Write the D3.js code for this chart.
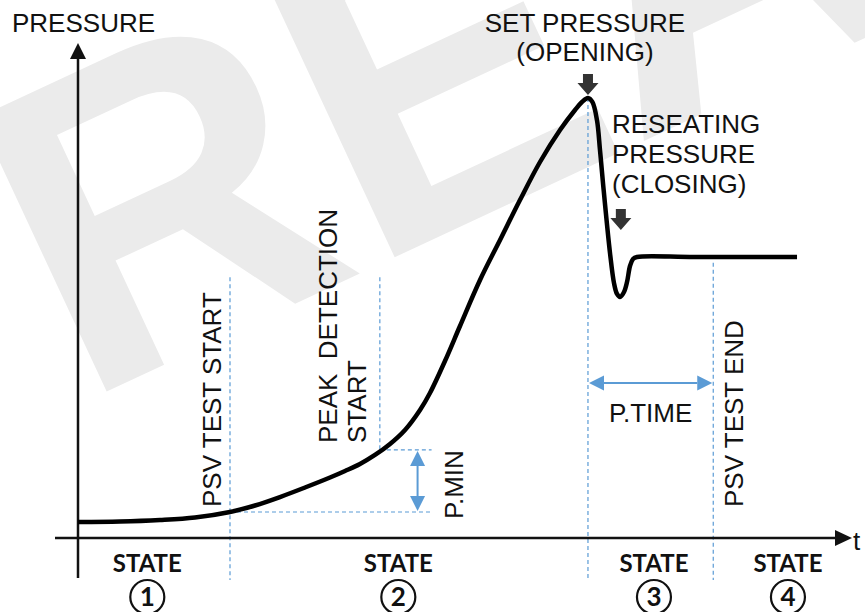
<!DOCTYPE html>
<html>
<head>
<meta charset="utf-8">
<script src="https://cdn.jsdelivr.net/npm/d3@7/dist/d3.min.js"></script>
<style>
  body { margin: 0; background: #fff; }
  svg { display: block; }
  text { font-family: "Liberation Sans", Arial, sans-serif; fill: #111; }
</style>
</head>
<body>
<svg id="chart" width="865" height="612"></svg>
<script>
/* Curve readings (time %, pressure %) */
var timeVals = [0, 5.45, 10.65, 15.19, 19.74, 22.99, 26.23, 29.48, 32.73, 34.68, 36.62, 38.57,
                40.52, 42.47, 44.42, 45.71, 47.66, 49.61, 52.21, 54.81, 57.40, 60.0, 62.60,
                64.55, 65.45, 66.23, 66.8, 67.4, 67.79, 68.18, 69.09, 69.61, 70.0, 70.39,
                70.91, 71.3, 71.69, 72.08, 72.6, 80.0, 93.38];
var pressureVals = [3.23, 3.33, 3.64, 4.14, 5.25, 6.57, 8.28, 10.2, 12.22, 13.54, 14.95, 16.77,
                    18.99, 21.82, 25.86, 29.29, 35.76, 42.83, 52.12, 60.2, 68.28, 75.96, 82.42,
                    86.46, 88.08, 88.89, 88.1, 84.4, 78.38, 71.72, 57.58, 51.5, 49.3, 48.69,
                    49.7, 51.7, 54.95, 56.36, 56.77, 56.77, 56.77];

/* Events along time */
var eventTimes = [19.74, 39.2, 66.23, 82.5];
var eventPressures = [5.25, 17.8, 88.89, 56.77];

/* States below the time axis */
var stateTimes = [9.0, 41.6, 74.8, 92.2];
var stateNums = ["1", "2", "3", "4"];

/* Reseating point */
var reseatTime = 70.5;
var reseatPressure = 62.2;

var settings = {
    blue : "#5b9bd5",
    dark : "#333",
    fontSize : 26,
    dash : "4,3"
}

var svg = d3.select("svg#chart");

var x = d3.scaleLinear().domain([0, 100]).range([78, 848]);
var y = d3.scaleLinear().domain([0, 100]).range([538, 43]);

/* Watermark */
svg.append("text")
  .text("REAL")
  .attr("transform", "translate(80,404) rotate(-25)")
  .style("font-size", "440px")
  .style("font-weight", "bold")
  .style("fill", "#ebebeb");

/* Dashed guides */
var guides = svg.append("g")
  .attr("stroke", settings.blue)
  .attr("stroke-width", 1.2)
  .attr("stroke-dasharray", settings.dash)
  .attr("fill", "none");

var guideTops = [52.7, 52.7, eventPressures[2], 55.6];
var guideBottoms = [-8.5, eventPressures[1], -8.5, -8.5];

guides.selectAll("line.v")
  .data(eventTimes)
  .enter()
  .append("line")
  .attr("class", "v")
  .attr("x1", d => x(d))
  .attr("x2", d => x(d))
  .attr("y1", (d, i) => y(guideTops[i]))
  .attr("y2", (d, i) => y(guideBottoms[i]));

var pMinX = 44.1;
guides.selectAll("line.h")
  .data([0, 1])
  .enter()
  .append("line")
  .attr("class", "h")
  .attr("x1", i => x(eventTimes[i]))
  .attr("x2", x(pMinX) + 14)
  .attr("y1", i => y(eventPressures[i]))
  .attr("y2", i => y(eventPressures[i]));

/* Blue double arrows */
function blueArrow(x1, y1, x2, y2) {
  var g = svg.append("g");
  var len = 15, half = 7.5;
  var dx = x2 - x1, dy = y2 - y1, l = Math.sqrt(dx * dx + dy * dy);
  var ux = dx / l, uy = dy / l;
  g.append("line")
    .attr("x1", x1 + ux * len).attr("y1", y1 + uy * len)
    .attr("x2", x2 - ux * len).attr("y2", y2 - uy * len)
    .attr("stroke", settings.blue).attr("stroke-width", 2);
  [[x1, y1, -1], [x2, y2, 1]].forEach(function(p) {
    var bx = p[0] - p[2] * ux * len, by = p[1] - p[2] * uy * len;
    g.append("path")
      .attr("d", `M${p[0]},${p[1]} L${bx - uy * half},${by + ux * half} L${bx + uy * half},${by - ux * half} Z`)
      .attr("fill", settings.blue);
  });
}

blueArrow(x(pMinX), y(eventPressures[1]) + 1, x(pMinX), y(eventPressures[0]) - 1);
var pTimeLevel = 31.3;
blueArrow(x(eventTimes[2]) + 1, y(pTimeLevel), x(eventTimes[3]) - 1, y(pTimeLevel));

/* Axes */
var axes = svg.append("g").attr("stroke", "#111").attr("stroke-width", 2.5);
axes.append("line").attr("x1", x(0)).attr("x2", x(0)).attr("y1", 56).attr("y2", 578);
axes.append("line").attr("x1", 55).attr("x2", 836).attr("y1", y(0)).attr("y2", y(0));
svg.append("path")
  .attr("d", `M${x(0)},${y(100)} L${x(0) - 8},${y(100) + 16} L${x(0) + 8},${y(100) + 16} Z`)
  .attr("fill", "#111");
svg.append("path")
  .attr("d", `M${x(100) + 4},${y(0)} L${x(100) - 13},${y(0) - 8} L${x(100) - 13},${y(0) + 8} Z`)
  .attr("fill", "#111");

/* Pressure curve */
var line = d3.line()
  .x(d => x(d[0]))
  .y(d => y(d[1]))
  .curve(d3.curveCatmullRom.alpha(0.5));

svg.append("path")
  .datum(d3.zip(timeVals, pressureVals))
  .attr("d", line)
  .attr("fill", "none")
  .attr("stroke", "#000")
  .attr("stroke-width", 4.5)
  .attr("stroke-linejoin", "round");

/* Black down arrows */
function downArrow(tx, ty) {
  svg.append("path")
    .attr("d", `M${tx},${ty} L${tx - 10.5},${ty - 12} L${tx - 5},${ty - 12} L${tx - 5},${ty - 21}
                L${tx + 5},${ty - 21} L${tx + 5},${ty - 12} L${tx + 10.5},${ty - 12} Z`)
    .attr("fill", settings.dark);
}
downArrow(x(eventTimes[2]), y(eventPressures[2]) - 3);
downArrow(x(reseatTime), y(reseatPressure));

/* Labels */
function label(txt, tx, ty, anchor) {
  return svg.append("text")
    .text(txt)
    .attr("x", tx)
    .attr("y", ty)
    .attr("text-anchor", anchor || "start")
    .style("font-size", settings.fontSize + "px");
}
function vlabel(txt, bx, by) {
  return svg.append("text")
    .text(txt)
    .attr("transform", `translate(${bx},${by}) rotate(-90)`)
    .style("font-size", settings.fontSize + "px")
    .style("white-space", "pre");
}

label("PRESSURE", 12, 32);
label("t", 853, 550);
label("SET PRESSURE", x(eventTimes[2]) - 3, 32, "middle");
label("(OPENING)", x(eventTimes[2]) - 3, 61, "middle");
label("RESEATING", 612, 133);
label("PRESSURE", 612, 163);
label("(CLOSING)", 612, 193);
label("P.TIME", (x(eventTimes[2]) + x(eventTimes[3])) / 2, 422, "middle");

vlabel("PSV TEST START", x(eventTimes[0]) - 9, 507);
vlabel("PEAK  DETECTION", x(eventTimes[1]) - 43, 443);
vlabel("START", x(eventTimes[1]) - 14, 443);
vlabel("P.MIN", x(pMinX) + 45, 519);
vlabel("PSV TEST END", x(eventTimes[3]) + 30, 507);

/* States */
var states = svg.selectAll(".state")
  .data(stateTimes)
  .enter()
  .append("g")
  .attr("class", "state")
  .attr("transform", d => `translate(${x(d)},0)`);

states.append("text")
  .text("STATE")
  .attr("y", 572)
  .attr("text-anchor", "middle")
  .style("font-family", "Lato, sans-serif")
  .style("font-weight", "bold")
  .style("font-size", "24px");

states.append("circle")
  .attr("cy", 597)
  .attr("r", 17)
  .attr("fill", "none")
  .attr("stroke", "#111")
  .attr("stroke-width", 2.2);

states.append("text")
  .text((d, i) => stateNums[i])
  .attr("y", 606)
  .attr("text-anchor", "middle")
  .style("font-family", "Lato, sans-serif")
  .style("font-weight", "bold")
  .style("font-size", "26px");
</script>
</body>
</html>
